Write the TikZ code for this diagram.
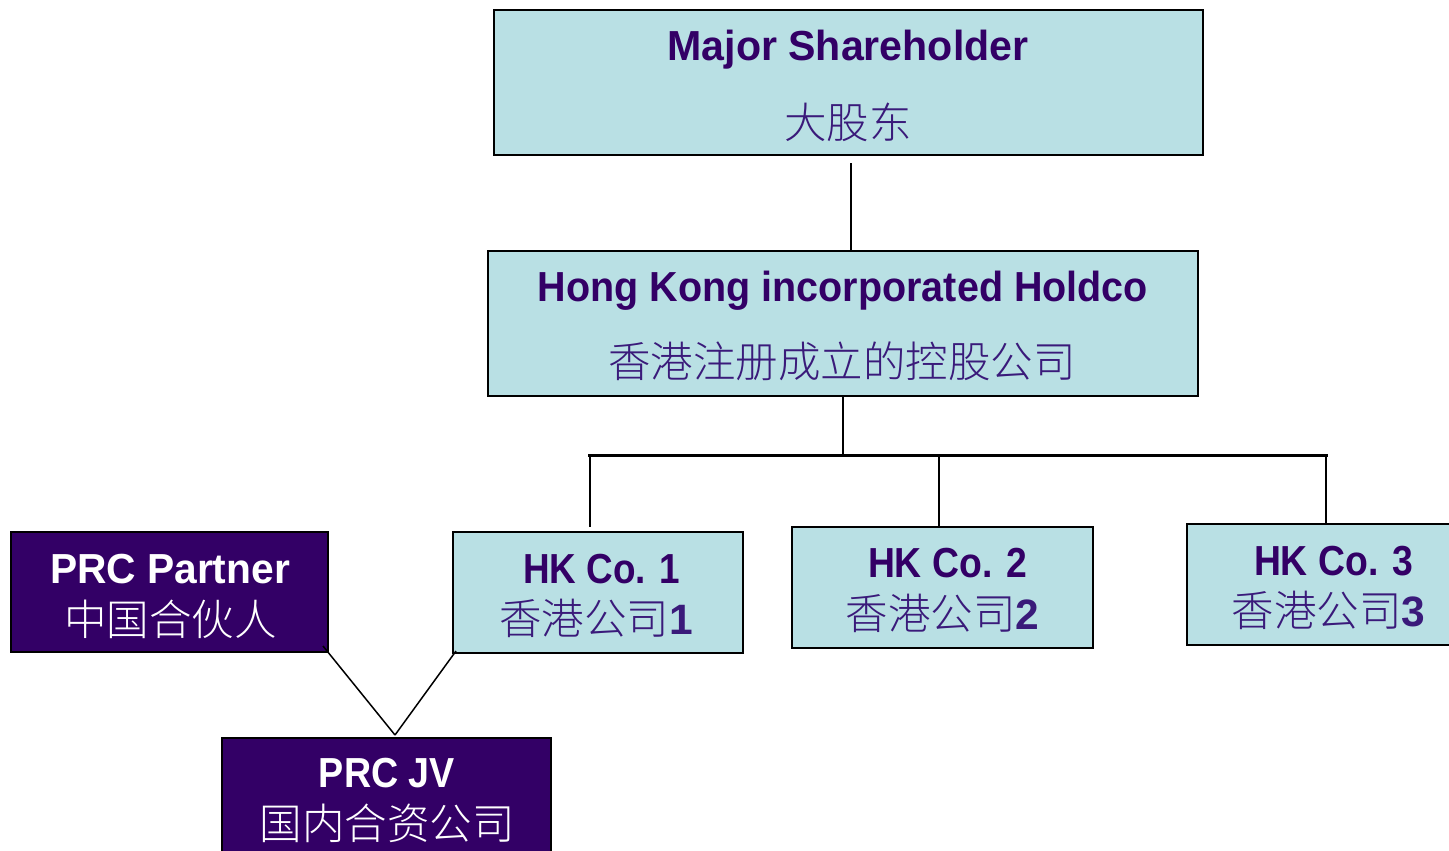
\documentclass[tikz,border=0pt]{standalone}
\usepackage{fontspec}
\usepackage{graphicx}
\setmainfont{Liberation Sans}
\newfontfamily\tf{Liberation Sans}
\newfontfamily\cjk{Noto Sans CJK SC Light}
\definecolor{lblue}{HTML}{B9E0E4}
\definecolor{dpurp}{HTML}{330066}
\definecolor{cpurp}{HTML}{3A1A7A}
\newcommand\fw[2]{\resizebox{#1pt}{\height}{#2}}
\tikzset{
  lbox/.style={draw=black, line width=2pt, fill=lblue, rectangle, inner sep=0pt},
  dbox/.style={draw=black, line width=2pt, fill=dpurp, rectangle, inner sep=0pt},
  ttl/.style={anchor=base, inner sep=0pt, font=\tf\bfseries\fontsize{42}{50}\selectfont, text=dpurp},
  cn/.style={anchor=base, inner sep=0pt, font=\cjk\fontsize{42.5}{50}\selectfont, text=cpurp},
  wttl/.style={ttl, text=white},
  wcn/.style={cn, text=white},
  conn/.style={draw=black, line width=2pt},
  thin/.style={draw=black, line width=1.5pt},
}
\begin{document}
\begin{tikzpicture}[x=1pt,y=-1pt]
\useasboundingbox (0,0) rectangle (1449,851);
\clip (0,0) rectangle (1449,851);
% boxes
\node[lbox, minimum width=709pt, minimum height=145pt] (ms) at (848.5,82.5) {};
\node[lbox, minimum width=710pt, minimum height=145pt] (hd) at (843,323.5) {};
\node[lbox, minimum width=290pt, minimum height=121pt] (hk1) at (598,592.5) {};
\node[lbox, minimum width=301pt, minimum height=121pt] (hk2) at (942.5,587.5) {};
\node[lbox, minimum width=300pt, minimum height=121pt] (hk3) at (1337,584.5) {};
\node[dbox, minimum width=317pt, minimum height=120pt] (pp) at (169.5,592) {};
\node[dbox, minimum width=329pt, minimum height=130pt] (jv) at (386.5,803) {};
% texts
\node[ttl] (ms1) at (848,61) {\fw{361}{Major Shareholder}};
\node[cn] (ms2) at (848,139) {大股东};
\node[ttl] (hd1) at (843,301) {\fw{610}{Hong Kong incorporated Holdco}};
\node[cn] (hd2) at (842,377) {香港注册成立的控股公司};
\node[ttl] (hk1a) at (601.5,583) {\fw{157}{HK Co. 1}};
\node[cn] (hk1b) at (596,634) {香港公司{\tf\bfseries 1}};
\node[ttl] (hk2a) at (947.5,577) {\fw{159}{HK Co. 2}};
\node[cn] (hk2b) at (942.5,629) {香港公司{\tf\bfseries 2}};
\node[ttl] (hk3a) at (1333.5,575) {\fw{159}{HK Co. 3}};
\node[cn] (hk3b) at (1328.5,626) {香港公司{\tf\bfseries 3}};
\node[wttl] (pp1) at (170,583) {\fw{240}{PRC Partner}};
\node[wcn] (pp2) at (170.5,635) {中国合伙人};
\node[wttl] (jv1) at (387,787) {\fw{136}{PRC JV}};
\node[wcn] (jv2) at (387,839) {国内合资公司};
% connectors
\coordinate (barL) at (588,455);
\coordinate (barR) at (1328,455);
\coordinate (jvtop) at (395,735);
\draw[conn] ([xshift=2.5pt,yshift=-7pt]ms.south) -- ([xshift=2.5pt]ms.south |- hd.north);
\draw[conn] (hd.south) -- ([yshift=1pt]hd.south |- barL);
\draw[draw=black, line width=3pt] (barL) -- (barR);
\draw[conn] (590,455) -- (590,527);
\draw[conn] ([xshift=-3.5pt]barL -| hk2.north) -- ([xshift=-3.5pt]hk2.north);
\draw[conn] (1326,455) -- (1326,524);
\draw[thin] ([xshift=-6pt,yshift=7pt]pp.south east) -- (jvtop);
\draw[thin] ([xshift=4pt,yshift=3pt]hk1.south west) -- (jvtop);
\end{tikzpicture}
\end{document}
